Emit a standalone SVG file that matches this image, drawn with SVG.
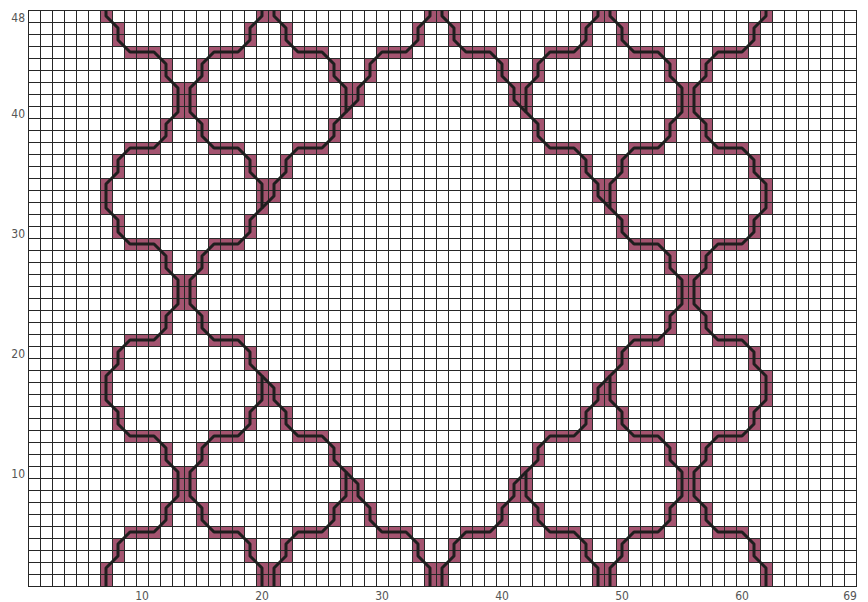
<svg xmlns="http://www.w3.org/2000/svg" width="868" height="602" viewBox="0 0 868 602">
<style>
.cell{fill:#a45470}
.grid{fill:none;stroke:#262626;stroke-width:1}
.curve{fill:none;stroke:#1e1e1e;stroke-width:3;stroke-linejoin:round}
.lbl{font-family:"Liberation Sans Narrow","DejaVu Sans Condensed","Liberation Sans",sans-serif;font-size:12px;fill:#555}
</style>
<defs>
<clipPath id="area"><rect x="28" y="10" width="829" height="577"/></clipPath>
<g id="qfill" class="cell">
<rect x="100" y="178" width="12" height="36"/>
<rect x="100" y="-2" width="12" height="24"/>
<rect x="112" y="214" width="12" height="24"/>
<rect x="112" y="154" width="12" height="24"/>
<rect x="112" y="22" width="12" height="24"/>
<rect x="124" y="238" width="36" height="12"/>
<rect x="124" y="142" width="36" height="12"/>
<rect x="124" y="46" width="36" height="12"/>
<rect x="160" y="250" width="12" height="24"/>
<rect x="160" y="118" width="12" height="24"/>
<rect x="160" y="58" width="12" height="24"/>
<rect x="172" y="274" width="24" height="24"/>
<rect x="172" y="82" width="24" height="36"/>
<rect x="196" y="250" width="12" height="24"/>
<rect x="196" y="118" width="12" height="24"/>
<rect x="196" y="58" width="12" height="24"/>
<rect x="208" y="238" width="36" height="12"/>
<rect x="208" y="142" width="36" height="12"/>
<rect x="208" y="46" width="36" height="12"/>
<rect x="244" y="214" width="12" height="24"/>
<rect x="244" y="154" width="12" height="24"/>
<rect x="244" y="22" width="12" height="24"/>
<rect x="256" y="178" width="12" height="36"/>
<rect x="268" y="178" width="12" height="24"/>
<rect x="256" y="-2" width="24" height="24"/>
<rect x="280" y="154" width="12" height="24"/>
<rect x="280" y="22" width="12" height="24"/>
<rect x="292" y="142" width="36" height="12"/>
<rect x="292" y="46" width="36" height="12"/>
<rect x="328" y="118" width="12" height="24"/>
<rect x="328" y="58" width="12" height="24"/>
<rect x="340" y="82" width="12" height="36"/>
<rect x="352" y="82" width="12" height="24"/>
<rect x="364" y="58" width="12" height="24"/>
<rect x="376" y="46" width="36" height="12"/>
<rect x="412" y="22" width="12" height="24"/>
<rect x="424" y="-2" width="12" height="24"/>
</g>
<g id="qline" class="curve">
<path d="M106 -8V16L118 28V40L130 52H154L166 64V76L178 88V112L166 124V136L154 148H130L118 160V172L106 184V208L118 220V232L130 244H154L166 256V268L178 280V292"/>
<path d="M262 -8V16L250 28V40L238 52H214L202 64V76L190 88V112L202 124V136L214 148H238L250 160V172L262 184V208L250 220V232L238 244H214L202 256V268L190 280V292"/>
<path d="M274 -8V16L286 28V40L298 52H322L334 64V76L346 88V112L334 124V136L322 148H298L286 160V172L274 184V196L262 208"/>
<path d="M430 -8V16L418 28V40L406 52H382L370 64V76L358 88V100L346 112"/>
</g>
</defs>
<g id="fills" clip-path="url(#area)">
<use href="#qfill"/>
<use href="#qfill" transform="matrix(-1 0 0 1 872 0)"/>
<use href="#qfill" transform="matrix(1 0 0 -1 0 584)"/>
<use href="#qfill" transform="matrix(-1 0 0 -1 872 584)"/>
</g>
<path id="grid" class="grid" d="M28.5 10V587M40.5 10V587M52.5 10V587M64.5 10V587M76.5 10V587M88.5 10V587M100.5 10V587M112.5 10V587M124.5 10V587M136.5 10V587M148.5 10V587M160.5 10V587M172.5 10V587M184.5 10V587M196.5 10V587M208.5 10V587M220.5 10V587M232.5 10V587M244.5 10V587M256.5 10V587M268.5 10V587M280.5 10V587M292.5 10V587M304.5 10V587M316.5 10V587M328.5 10V587M340.5 10V587M352.5 10V587M364.5 10V587M376.5 10V587M388.5 10V587M400.5 10V587M412.5 10V587M424.5 10V587M436.5 10V587M448.5 10V587M460.5 10V587M472.5 10V587M484.5 10V587M496.5 10V587M508.5 10V587M520.5 10V587M532.5 10V587M544.5 10V587M556.5 10V587M568.5 10V587M580.5 10V587M592.5 10V587M604.5 10V587M616.5 10V587M628.5 10V587M640.5 10V587M652.5 10V587M664.5 10V587M676.5 10V587M688.5 10V587M700.5 10V587M712.5 10V587M724.5 10V587M736.5 10V587M748.5 10V587M760.5 10V587M772.5 10V587M784.5 10V587M796.5 10V587M808.5 10V587M820.5 10V587M832.5 10V587M844.5 10V587M856.5 10V587M28 10.5H857M28 22.5H857M28 34.5H857M28 46.5H857M28 58.5H857M28 70.5H857M28 82.5H857M28 94.5H857M28 106.5H857M28 118.5H857M28 130.5H857M28 142.5H857M28 154.5H857M28 166.5H857M28 178.5H857M28 190.5H857M28 202.5H857M28 214.5H857M28 226.5H857M28 238.5H857M28 250.5H857M28 262.5H857M28 274.5H857M28 286.5H857M28 298.5H857M28 310.5H857M28 322.5H857M28 334.5H857M28 346.5H857M28 358.5H857M28 370.5H857M28 382.5H857M28 394.5H857M28 406.5H857M28 418.5H857M28 430.5H857M28 442.5H857M28 454.5H857M28 466.5H857M28 478.5H857M28 490.5H857M28 502.5H857M28 514.5H857M28 526.5H857M28 538.5H857M28 550.5H857M28 562.5H857M28 574.5H857M28 586.5H857"/>
<g id="curves" clip-path="url(#area)">
<use href="#qline"/>
<use href="#qline" transform="matrix(-1 0 0 1 872 0)"/>
<use href="#qline" transform="matrix(1 0 0 -1 0 584)"/>
<use href="#qline" transform="matrix(-1 0 0 -1 872 584)"/>
</g>
<g id="labels" class="lbl">
<text x="25" y="21.5" text-anchor="end">48</text>
<text x="25" y="117.5" text-anchor="end">40</text>
<text x="25" y="237.5" text-anchor="end">30</text>
<text x="25" y="357.5" text-anchor="end">20</text>
<text x="25" y="477.5" text-anchor="end">10</text>
<text x="142" y="600" text-anchor="middle">10</text>
<text x="262" y="600" text-anchor="middle">20</text>
<text x="382" y="600" text-anchor="middle">30</text>
<text x="502" y="600" text-anchor="middle">40</text>
<text x="622" y="600" text-anchor="middle">50</text>
<text x="742" y="600" text-anchor="middle">60</text>
<text x="850" y="600" text-anchor="middle">69</text>
</g>
</svg>
